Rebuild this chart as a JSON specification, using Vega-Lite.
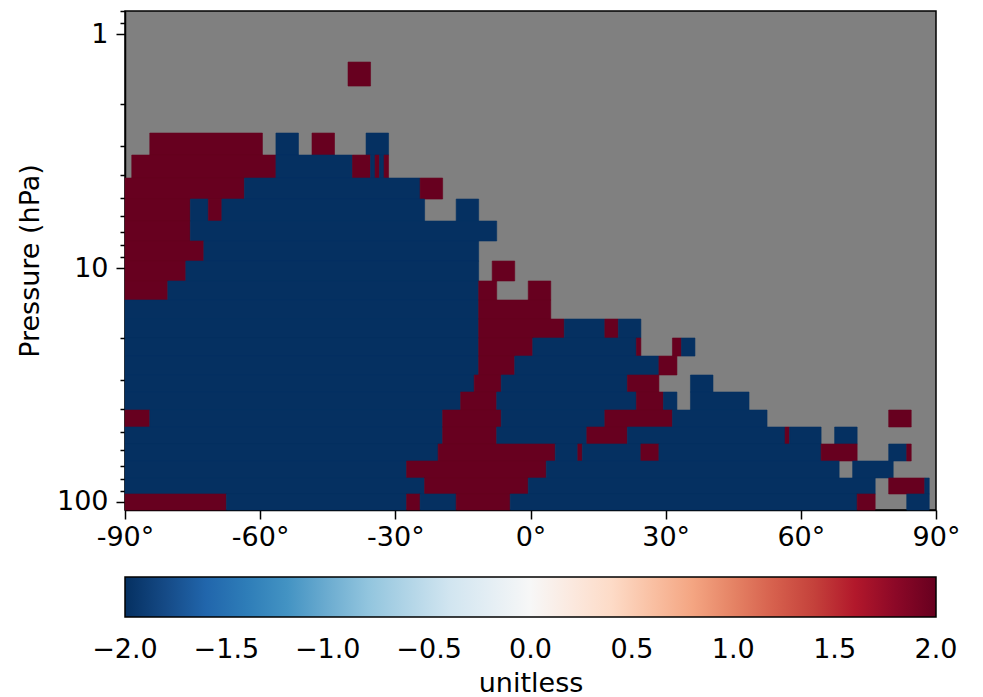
{
  "$schema": "https://vega.github.io/schema/vega-lite/v6.json",
  "width": 811,
  "height": 499,
  "autosize": {"type": "none"},
  "padding": {"left": 125, "top": 11, "right": 47, "bottom": 187},
  "background": "white",
  "config": {
    "view": {"fill": "#808080", "stroke": "black", "strokeWidth": 1.5},
    "font": "DejaVu Sans",
    "axis": {"domainColor": "black", "domainWidth": 1.5, "tickColor": "black", "tickWidth": 1.5, "labelColor": "black", "titleColor": "black", "grid": false, "labelFlush": false}
  },
  "data": {
    "values": [
      {"lat0": -40.5, "lat1": -35.5, "p0": 1.317, "p1": 1.668, "v": 2},

      {"lat0": -84.5, "lat1": -59.5, "p0": 2.649, "p1": 3.289, "v": 2},
      {"lat0": -56.5, "lat1": -51.5, "p0": 2.649, "p1": 3.289, "v": -2},
      {"lat0": -48.5, "lat1": -43.5, "p0": 2.649, "p1": 3.289, "v": 2},
      {"lat0": -36.5, "lat1": -31.5, "p0": 2.649, "p1": 3.289, "v": -2},

      {"lat0": -88.5, "lat1": -56.5, "p0": 3.289, "p1": 4.125, "v": 2},
      {"lat0": -56.5, "lat1": -39.5, "p0": 3.289, "p1": 4.125, "v": -2},
      {"lat0": -39.5, "lat1": -35.5, "p0": 3.289, "p1": 4.125, "v": 2},
      {"lat0": -35.5, "lat1": -34.5, "p0": 3.289, "p1": 4.125, "v": -2},
      {"lat0": -34.5, "lat1": -33.5, "p0": 3.289, "p1": 4.125, "v": 2},
      {"lat0": -33.5, "lat1": -32.5, "p0": 3.289, "p1": 4.125, "v": -2},
      {"lat0": -32.5, "lat1": -31.5, "p0": 3.289, "p1": 4.125, "v": 2},

      {"lat0": -90, "lat1": -63.5, "p0": 4.125, "p1": 5.072, "v": 2},
      {"lat0": -63.5, "lat1": -24.5, "p0": 4.125, "p1": 5.072, "v": -2},
      {"lat0": -24.5, "lat1": -19.5, "p0": 4.125, "p1": 5.072, "v": 2},

      {"lat0": -90, "lat1": -75.5, "p0": 5.072, "p1": 6.297, "v": 2},
      {"lat0": -75.5, "lat1": -71.5, "p0": 5.072, "p1": 6.297, "v": -2},
      {"lat0": -71.5, "lat1": -68.5, "p0": 5.072, "p1": 6.297, "v": 2},
      {"lat0": -68.5, "lat1": -23.5, "p0": 5.072, "p1": 6.297, "v": -2},
      {"lat0": -16.5, "lat1": -11.5, "p0": 5.072, "p1": 6.297, "v": -2},

      {"lat0": -90, "lat1": -75.5, "p0": 6.297, "p1": 7.665, "v": 2},
      {"lat0": -75.5, "lat1": -7.5, "p0": 6.297, "p1": 7.665, "v": -2},

      {"lat0": -90, "lat1": -72.5, "p0": 7.665, "p1": 9.335, "v": 2},
      {"lat0": -72.5, "lat1": -11.5, "p0": 7.665, "p1": 9.335, "v": -2},

      {"lat0": -90, "lat1": -76.5, "p0": 9.335, "p1": 11.36, "v": 2},
      {"lat0": -76.5, "lat1": -11.5, "p0": 9.335, "p1": 11.36, "v": -2},
      {"lat0": -8.5, "lat1": -3.5, "p0": 9.335, "p1": 11.36, "v": 2},

      {"lat0": -90, "lat1": -80.5, "p0": 11.36, "p1": 13.7, "v": 2},
      {"lat0": -80.5, "lat1": -11.5, "p0": 11.36, "p1": 13.7, "v": -2},
      {"lat0": -11.5, "lat1": -7.5, "p0": 11.36, "p1": 13.7, "v": 2},
      {"lat0": -0.5, "lat1": 4.5, "p0": 11.36, "p1": 13.7, "v": 2},

      {"lat0": -90, "lat1": -11.5, "p0": 13.7, "p1": 16.52, "v": -2},
      {"lat0": -11.5, "lat1": 4.5, "p0": 13.7, "p1": 16.52, "v": 2},

      {"lat0": -90, "lat1": -11.5, "p0": 16.52, "p1": 19.91, "v": -2},
      {"lat0": -11.5, "lat1": 7.5, "p0": 16.52, "p1": 19.91, "v": 2},
      {"lat0": 7.5, "lat1": 16.5, "p0": 16.52, "p1": 19.91, "v": -2},
      {"lat0": 16.5, "lat1": 19.5, "p0": 16.52, "p1": 19.91, "v": 2},
      {"lat0": 19.5, "lat1": 24.5, "p0": 16.52, "p1": 19.91, "v": -2},

      {"lat0": -90, "lat1": -11.5, "p0": 19.91, "p1": 23.78, "v": -2},
      {"lat0": -11.5, "lat1": 0.5, "p0": 19.91, "p1": 23.78, "v": 2},
      {"lat0": 0.5, "lat1": 23.5, "p0": 19.91, "p1": 23.78, "v": -2},
      {"lat0": 23.5, "lat1": 24.5, "p0": 19.91, "p1": 23.78, "v": 2},
      {"lat0": 31.5, "lat1": 33.5, "p0": 19.91, "p1": 23.78, "v": 2},
      {"lat0": 33.5, "lat1": 36.5, "p0": 19.91, "p1": 23.78, "v": -2},

      {"lat0": -90, "lat1": -11.5, "p0": 23.78, "p1": 28.66, "v": -2},
      {"lat0": -11.5, "lat1": -3.5, "p0": 23.78, "p1": 28.66, "v": 2},
      {"lat0": -3.5, "lat1": 28.5, "p0": 23.78, "p1": 28.66, "v": -2},
      {"lat0": 28.5, "lat1": 32.5, "p0": 23.78, "p1": 28.66, "v": 2},

      {"lat0": -90, "lat1": -12.5, "p0": 28.66, "p1": 33.88, "v": -2},
      {"lat0": -12.5, "lat1": -6.5, "p0": 28.66, "p1": 33.88, "v": 2},
      {"lat0": -6.5, "lat1": 21.5, "p0": 28.66, "p1": 33.88, "v": -2},
      {"lat0": 21.5, "lat1": 28.5, "p0": 28.66, "p1": 33.88, "v": 2},
      {"lat0": 35.5, "lat1": 40.5, "p0": 28.66, "p1": 33.88, "v": -2},

      {"lat0": -90, "lat1": -15.5, "p0": 33.88, "p1": 40.45, "v": -2},
      {"lat0": -15.5, "lat1": -7.5, "p0": 33.88, "p1": 40.45, "v": 2},
      {"lat0": -7.5, "lat1": 23.5, "p0": 33.88, "p1": 40.45, "v": -2},
      {"lat0": 23.5, "lat1": 29.5, "p0": 33.88, "p1": 40.45, "v": 2},
      {"lat0": 29.5, "lat1": 32.5, "p0": 33.88, "p1": 40.45, "v": -2},
      {"lat0": 35.5, "lat1": 48.5, "p0": 33.88, "p1": 40.45, "v": -2},

      {"lat0": -90, "lat1": -84.5, "p0": 40.45, "p1": 47.81, "v": 2},
      {"lat0": -84.5, "lat1": -19.5, "p0": 40.45, "p1": 47.81, "v": -2},
      {"lat0": -19.5, "lat1": -6.5, "p0": 40.45, "p1": 47.81, "v": 2},
      {"lat0": -6.5, "lat1": 16.5, "p0": 40.45, "p1": 47.81, "v": -2},
      {"lat0": 16.5, "lat1": 31.5, "p0": 40.45, "p1": 47.81, "v": 2},
      {"lat0": 31.5, "lat1": 52.5, "p0": 40.45, "p1": 47.81, "v": -2},
      {"lat0": 79.5, "lat1": 84.5, "p0": 40.45, "p1": 47.81, "v": 2},

      {"lat0": -90, "lat1": -19.5, "p0": 47.81, "p1": 56.51, "v": -2},
      {"lat0": -19.5, "lat1": -7.5, "p0": 47.81, "p1": 56.51, "v": 2},
      {"lat0": -7.5, "lat1": 12.5, "p0": 47.81, "p1": 56.51, "v": -2},
      {"lat0": 12.5, "lat1": 21.5, "p0": 47.81, "p1": 56.51, "v": 2},
      {"lat0": 21.5, "lat1": 56.5, "p0": 47.81, "p1": 56.51, "v": -2},
      {"lat0": 56.5, "lat1": 57.5, "p0": 47.81, "p1": 56.51, "v": 2},
      {"lat0": 57.5, "lat1": 64.5, "p0": 47.81, "p1": 56.51, "v": -2},
      {"lat0": 67.5, "lat1": 72.5, "p0": 47.81, "p1": 56.51, "v": -2},

      {"lat0": -90, "lat1": -20.5, "p0": 56.51, "p1": 66.81, "v": -2},
      {"lat0": -20.5, "lat1": 5.5, "p0": 56.51, "p1": 66.81, "v": 2},
      {"lat0": 5.5, "lat1": 10.5, "p0": 56.51, "p1": 66.81, "v": -2},
      {"lat0": 10.5, "lat1": 11.5, "p0": 56.51, "p1": 66.81, "v": 2},
      {"lat0": 11.5, "lat1": 24.5, "p0": 56.51, "p1": 66.81, "v": -2},
      {"lat0": 24.5, "lat1": 28.5, "p0": 56.51, "p1": 66.81, "v": 2},
      {"lat0": 28.5, "lat1": 64.5, "p0": 56.51, "p1": 66.81, "v": -2},
      {"lat0": 64.5, "lat1": 72.5, "p0": 56.51, "p1": 66.81, "v": 2},
      {"lat0": 79.5, "lat1": 83.5, "p0": 56.51, "p1": 66.81, "v": -2},
      {"lat0": 83.5, "lat1": 84.5, "p0": 56.51, "p1": 66.81, "v": 2},

      {"lat0": -90, "lat1": -27.5, "p0": 66.81, "p1": 78.95, "v": -2},
      {"lat0": -27.5, "lat1": 3.5, "p0": 66.81, "p1": 78.95, "v": 2},
      {"lat0": 3.5, "lat1": 68.5, "p0": 66.81, "p1": 78.95, "v": -2},
      {"lat0": 71.5, "lat1": 80.5, "p0": 66.81, "p1": 78.95, "v": -2},

      {"lat0": -90, "lat1": -23.5, "p0": 78.95, "p1": 92.43, "v": -2},
      {"lat0": -23.5, "lat1": -0.5, "p0": 78.95, "p1": 92.43, "v": 2},
      {"lat0": -0.5, "lat1": 76.5, "p0": 78.95, "p1": 92.43, "v": -2},
      {"lat0": 79.5, "lat1": 87.5, "p0": 78.95, "p1": 92.43, "v": 2},
      {"lat0": 87.5, "lat1": 88.5, "p0": 78.95, "p1": 92.43, "v": -2},

      {"lat0": -90, "lat1": -67.5, "p0": 92.43, "p1": 108.2, "v": 2},
      {"lat0": -67.5, "lat1": -27.5, "p0": 92.43, "p1": 108.2, "v": -2},
      {"lat0": -27.5, "lat1": -24.5, "p0": 92.43, "p1": 108.2, "v": 2},
      {"lat0": -24.5, "lat1": -16.5, "p0": 92.43, "p1": 108.2, "v": -2},
      {"lat0": -16.5, "lat1": -4.5, "p0": 92.43, "p1": 108.2, "v": 2},
      {"lat0": -4.5, "lat1": 72.5, "p0": 92.43, "p1": 108.2, "v": -2},
      {"lat0": 72.5, "lat1": 76.5, "p0": 92.43, "p1": 108.2, "v": 2},
      {"lat0": 83.5, "lat1": 88.5, "p0": 92.43, "p1": 108.2, "v": -2}
    ]
  },
  "layer": [
    {
      "mark": {"type": "rect", "strokeWidth": 0.6},
      "encoding": {
        "x": {
          "field": "lat0", "type": "quantitative",
          "scale": {"domain": [-90, 90], "nice": false, "zero": false},
          "axis": {"values": [-90, -60, -30, 0, 30, 60, 90], "labelExpr": "datum.value + '°'", "tickSize": 9, "labelPadding": 5, "labelFontSize": 27, "title": null}
        },
        "x2": {"field": "lat1"},
        "y": {
          "field": "p0", "type": "quantitative",
          "scale": {"type": "log", "domain": [0.797, 108.2], "nice": false, "reverse": true},
          "axis": {"values": [1, 10, 100], "labelExpr": "toString(datum.value)", "tickSize": 9, "labelPadding": 8, "labelFontSize": 27, "title": "Pressure (hPa)", "titleFontSize": 27, "titleFontWeight": "normal", "titlePadding": 12, "orient": "left"}
        },
        "y2": {"field": "p1"},
        "color": {
          "field": "v", "type": "quantitative",
          "scale": {
            "domain": [-2, -1.6, -1.2, -0.8, -0.4, 0, 0.4, 0.8, 1.2, 1.6, 2],
            "range": ["#053061", "#2166ac", "#4393c3", "#92c5de", "#d1e5f0", "#f7f7f7", "#fddbc7", "#f4a582", "#d6604d", "#b2182b", "#67001f"]
          },
          "legend": {
            "type": "gradient",
            "orient": "none", "legendX": 0, "legendY": 566, "direction": "horizontal",
            "gradientLength": 811, "gradientThickness": 40,
            "gradientStrokeColor": "black", "gradientStrokeWidth": 1.5,
            "values": [-2, -1.5, -1, -0.5, 0, 0.5, 1, 1.5, 2], "format": ".1f",
            "labelFontSize": 27, "labelColor": "black", "labelOffset": 20, "labelAlign": "center", "labelOverlap": false,
            "title": "unitless", "titleOrient": "bottom", "titleAnchor": "middle",
            "titleFontSize": 27, "titleFontWeight": "normal", "titleColor": "black", "titlePadding": 8,
            "padding": 0,
            "encode": {"labels": {"update": {"align": {"value": "center"}}}}
          }
        },
        "stroke": {"condition": {"test": "datum.v > 0", "value": "#67001f"}, "value": "#053061"}
      }
    },
    {
      "mark": {"type": "rect", "opacity": 0},
      "encoding": {
        "y": {
          "field": "p0", "type": "quantitative",
          "axis": {"values": [0.8, 0.9, 2, 3, 4, 5, 6, 7, 8, 9, 20, 30, 40, 50, 60, 70, 80, 90], "labels": false, "tickSize": 5, "title": null, "orient": "left", "domain": false}
        },
        "y2": {"field": "p1"}
      }
    }
  ],
  "resolve": {"axis": {"y": "independent"}}
}
